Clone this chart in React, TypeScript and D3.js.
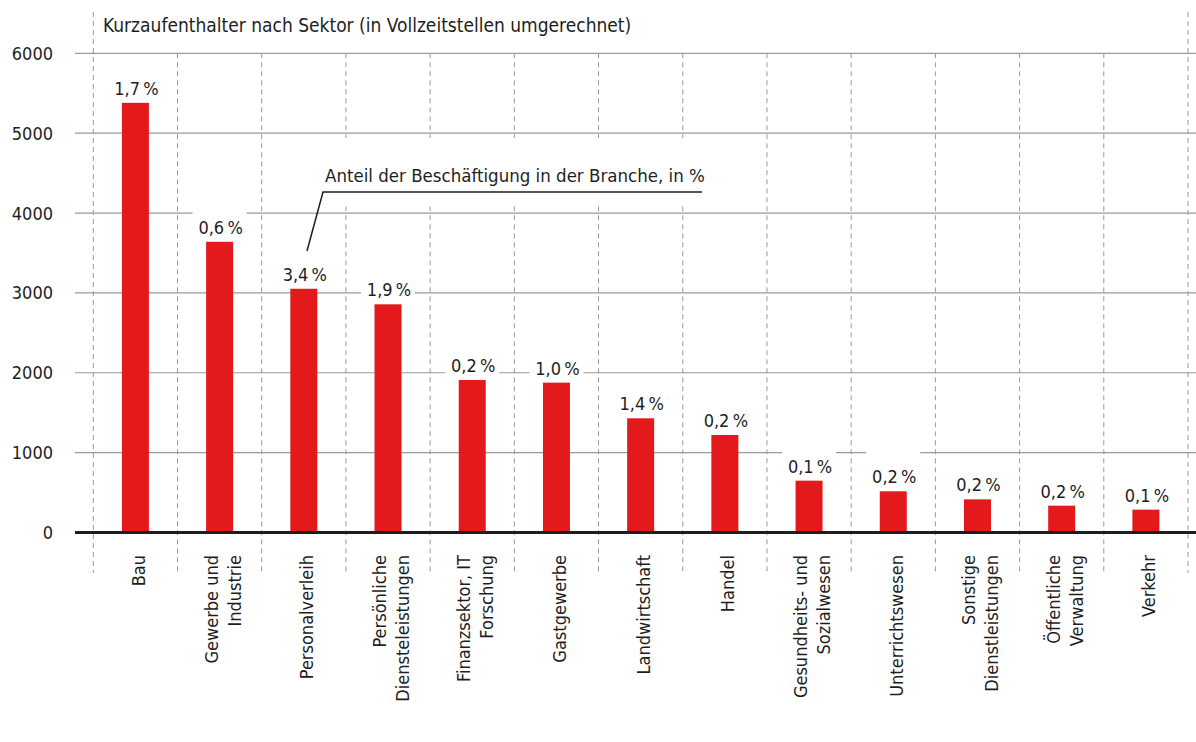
import React from "react";
import * as d3 from "d3";

const categories: string[][] = [
  ["Bau"],
  ["Gewerbe und", "Industrie"],
  ["Personalverleih"],
  ["Persönliche", "Diensteleistungen"],
  ["Finanzsektor, IT", "Forschung"],
  ["Gastgewerbe"],
  ["Landwirtschaft"],
  ["Handel"],
  ["Gesundheits- und", "Sozialwesen"],
  ["Unterrichtswesen"],
  ["Sonstige", "Dienstleistungen"],
  ["Öffentliche", "Verwaltung"],
  ["Verkehr"],
];
const values: number[] = [5380, 3640, 3052, 2857, 1909, 1876, 1430, 1221, 649, 516, 415, 336, 286];
const shares: string[] = ["1,7", "0,6", "3,4", "1,9", "0,2", "1,0", "1,4", "0,2", "0,1", "0,2", "0,2", "0,2", "0,1"];
const yTicks: number[] = [0, 1000, 2000, 3000, 4000, 5000, 6000];
const title = "Kurzaufenthalter nach Sektor (in Vollzeitstellen umgerechnet)";
const annotation = "Anteil der Beschäftigung in der Branche, in %";

const FONT = "'DejaVu Sans Condensed', 'Liberation Sans Narrow', 'Roboto Condensed', Roboto, sans-serif";
const RED = "#e3191c";
const GRID = "#9a9a9a";
const INK = "#1e1e1e";

export default function App() {
  const W = 1196, H = 742;
  const keys = categories.map((c) => c.join(" "));
  const x = d3.scaleBand<string>().domain(keys).range([93.3, 1188]).paddingInner(0).paddingOuter(0);
  const y = d3.scaleLinear().domain([0, 6000]).range([532.5, 53.3]);
  const bw = x.bandwidth();
  const barW = 27;
  const boundaries = d3.range(keys.length + 1).map((i) => 93.3 + i * bw);

  return (
    <svg width={W} height={H} style={{ position: "absolute", left: 0, top: 0, background: "#fff" }} fontFamily={FONT}>
      <rect x={0} y={0} width={W} height={H} fill="#fff" />
      {/* gridlines */}
      {yTicks.filter((t) => t > 0).map((t) => (
        <line key={"g" + t} x1={75} x2={W} y1={y(t)} y2={y(t)} stroke={GRID} strokeWidth={1.2} />
      ))}
      {/* label background boxes */}
      {values.map((v, i) => {
        const cx = (x(keys[i]) as number) + bw / 2;
        return <rect key={"lb" + i} x={cx - 27} y={y(v) - 42} width={54} height={42} fill="#fff" />;
      })}
      {/* dashed vertical separators */}
      {boundaries.map((bx, i) => (
        <line
          key={"d" + i}
          x1={bx}
          x2={bx}
          y1={i === 0 || i === boundaries.length - 1 ? 12 : y(6000)}
          y2={573}
          stroke={GRID}
          strokeWidth={1}
          strokeDasharray="5,4"
        />
      ))}
      {/* annotation background */}
      <rect x={318} y={138} width={390} height={65} fill="#fff" />
      {/* bars */}
      {values.map((v, i) => {
        const cx = (x(keys[i]) as number) + bw / 2;
        return <rect key={"b" + i} x={cx - barW / 2} y={y(v)} width={barW} height={y(0) - y(v)} fill={RED} />;
      })}
      {/* zero line */}
      <line x1={75} x2={W} y1={y(0)} y2={y(0)} stroke={INK} strokeWidth={3} />
      {/* y tick labels */}
      {yTicks.map((t) => (
        <text key={"t" + t} x={53} y={y(t)} dy="0.36em" textAnchor="end" fontSize={18} fill={INK}>
          {t}
        </text>
      ))}
      {/* value labels */}
      {values.map((v, i) => {
        const cx = (x(keys[i]) as number) + bw / 2;
        return (
          <text key={"v" + i} x={cx + 1} y={y(v) - 8} textAnchor="middle" fontSize={18} fill={INK}>
            {shares[i] + "\u202F%"}
          </text>
        );
      })}
      {/* category labels */}
      {categories.map((lines, i) => {
        const cx = (x(keys[i]) as number) + bw / 2 + 3;
        const n = lines.length;
        return (
          <g key={"c" + i}>
            {lines.map((ln, j) => {
              const lx = cx + (j - (n - 1) / 2) * 23;
              return (
                <text
                  key={j}
                  transform={`translate(${lx},555) rotate(-90)`}
                  textAnchor="end"
                  dominantBaseline="central"
                  fontSize={18}
                  fill={INK}
                >
                  {ln}
                </text>
              );
            })}
          </g>
        );
      })}
      {/* title */}
      <text x={103} y={32} fontSize={19} fill={INK}>
        {title}
      </text>
      {/* annotation */}
      <text x={325} y={182} fontSize={18.5} fill={INK}>
        {annotation}
      </text>
      <polyline points="702,192 323,192 307,251" fill="none" stroke={INK} strokeWidth={1.5} />
    </svg>
  );
}
